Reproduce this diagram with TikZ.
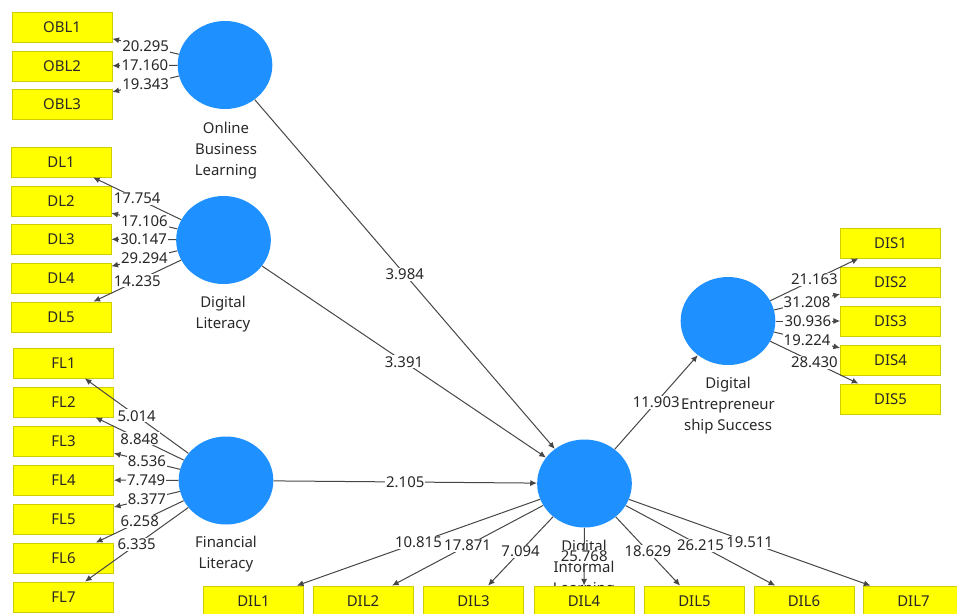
\documentclass[tikz,border=0pt]{standalone}
\usepackage{fontspec}
\setmainfont{Noto Sans}
\usetikzlibrary{arrows.meta,shapes.geometric}
\definecolor{plsblue}{RGB}{30,144,255}
\definecolor{plsyellow}{RGB}{255,255,0}
\definecolor{plsedge}{RGB}{205,205,0}
\definecolor{plsline}{RGB}{70,70,70}
\definecolor{plstext}{RGB}{40,40,40}

\tikzset{
  latent/.style={ellipse,fill=plsblue,minimum width=71pt,minimum height=66pt,inner sep=0pt},
  indicator/.style={rectangle,draw=plsedge,fill=plsyellow,line width=0.6pt,
    minimum width=75pt,minimum height=22.5pt,inner sep=0pt,
    font=\fontsize{11.2}{13}\selectfont,text=plstext},
  caption/.style={align=center,font=\fontsize{11.2}{15.75}\selectfont,text=plstext},
  path/.style={draw=plsline,line width=0.75pt,-{Latex[length=5pt,width=4.5pt]}},
  val/.style={fill=white,inner sep=0.8pt,font=\fontsize{11.2}{13}\selectfont,text=plstext}
}

\begin{document}
\begin{tikzpicture}[x=0.75pt,y=-0.75pt]
\useasboundingbox (0,0) rectangle (957,614);
\clip (0,0) rectangle (957,614);
%
% latent variables
\node[latent] (obl) at (225,65) {};
\node[latent] (dl) at (223.5,240) {};
\node[latent] (fl) at (226,480.5) {};
\node[latent] (dil) at (584.5,483.5) {};
\node[latent] (dis) at (728,321) {};
%
% indicators: online business learning
\node[indicator] (obl1) at (62,27) {OBL1};
\node[indicator] (obl2) at (62,66) {OBL2};
\node[indicator] (obl3) at (62,104) {OBL3};
%
% indicators: digital literacy
\node[indicator] (dl1) at (61,162) {DL1};
\node[indicator] (dl2) at (61,201) {DL2};
\node[indicator] (dl3) at (61,239) {DL3};
\node[indicator] (dl4) at (61,278) {DL4};
\node[indicator] (dl5) at (61,317) {DL5};
%
% indicators: financial literacy
\node[indicator] (fl1) at (63.5,363) {FL1};
\node[indicator] (fl2) at (63.5,402) {FL2};
\node[indicator] (fl3) at (63.5,441) {FL3};
\node[indicator] (fl4) at (63.5,480) {FL4};
\node[indicator] (fl5) at (63.5,519) {FL5};
\node[indicator] (fl6) at (63.5,558) {FL6};
\node[indicator] (fl7) at (63.5,597) {FL7};
%
% indicators: digital entrepreneurship success
\node[indicator] (dis1) at (890.5,243) {DIS1};
\node[indicator] (dis2) at (890.5,282) {DIS2};
\node[indicator] (dis3) at (890.5,321) {DIS3};
\node[indicator] (dis4) at (890.5,360) {DIS4};
\node[indicator] (dis5) at (890.5,399) {DIS5};
%
% structural paths
\draw[path] (obl) -- node[val] {3.984} (dil);
\draw[path] (dl) -- node[val] {3.391} (dil);
\draw[path] (fl) -- node[val] {2.105} (dil);
\draw[path] (dil) -- node[val] {11.903} (dis);
%
% loadings
\draw[path] (obl) -- node[val] {20.295} (obl1);
\draw[path] (obl) -- node[val] {17.160} (obl2);
\draw[path] (obl) -- node[val] {19.343} (obl3);
\draw[path] (dl) -- node[val] {17.754} (dl1);
\draw[path] (dl) -- node[val] {17.106} (dl2);
\draw[path] (dl) -- node[val] {30.147} (dl3);
\draw[path] (dl) -- node[val] {29.294} (dl4);
\draw[path] (dl) -- node[val] {14.235} (dl5);
\draw[path] (fl) -- node[val] {5.014} (fl1);
\draw[path] (fl) -- node[val] {8.848} (fl2);
\draw[path] (fl) -- node[val] {8.536} (fl3);
\draw[path] (fl) -- node[val] {7.749} (fl4);
\draw[path] (fl) -- node[val] {8.377} (fl5);
\draw[path] (fl) -- node[val] {6.258} (fl6);
\draw[path] (fl) -- node[val] {6.335} (fl7);
\draw[path] (dis) -- node[val] {21.163} (dis1);
\draw[path] (dis) -- node[val] {31.208} (dis2);
\draw[path] (dis) -- node[val] {30.936} (dis3);
\draw[path] (dis) -- node[val] {19.224} (dis4);
\draw[path] (dis) -- node[val] {28.430} (dis5);
%
% captions
\node[caption] (oblcap) at (226,151) {Online\\Business\\Learning};
\node[caption] (dlcap) at (223,314.5) {Digital\\Literacy};
\node[caption] (flcap) at (226,554.5) {Financial\\Literacy};
\node[caption] (discap) at (728,406) {Digital\\Entrepreneur\\ship Success};
\node[caption] (dilcap) at (584,569) {Digital\\Informal\\Learning};
%
% indicators: digital informal learning (on top of caption)
\node[indicator] (dil1) at (253.5,601) {DIL1};
\node[indicator] (dil2) at (363,601) {DIL2};
\node[indicator] (dil3) at (473.5,601) {DIL3};
\node[indicator] (dil4) at (584,601) {DIL4};
\node[indicator] (dil5) at (694.5,601) {DIL5};
\node[indicator] (dil6) at (804,601) {DIL6};
\node[indicator] (dil7) at (913.5,601) {DIL7};
%
% loadings: digital informal learning
\draw[path] (dil) -- node[val] {10.815} (dil1);
\draw[path] (dil) -- node[val] {17.871} (dil2);
\draw[path] (dil) -- node[val] {7.094} (dil3);
\draw[path] (dil) -- node[val] {25.768} (dil4);
\draw[path] (dil) -- node[val] {18.629} (dil5);
\draw[path] (dil) -- node[val] {26.215} (dil6);
\draw[path] (dil) -- node[val] {19.511} (dil7);
\end{tikzpicture}
\end{document}
